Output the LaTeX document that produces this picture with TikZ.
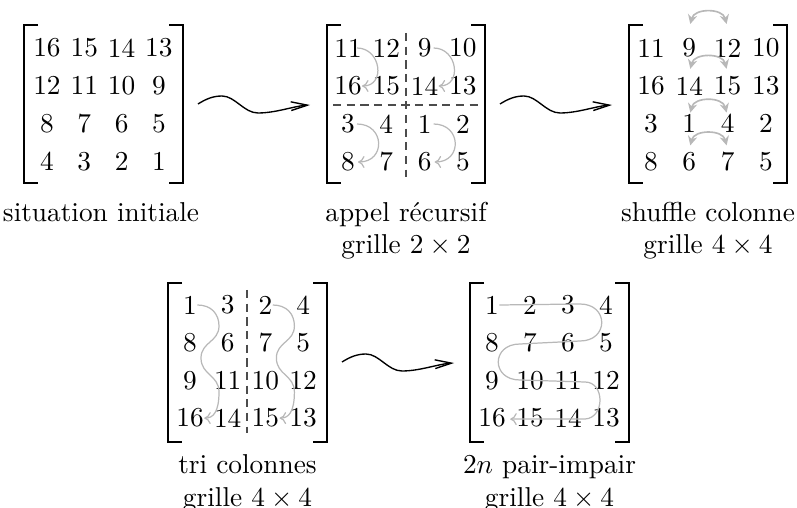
\documentclass[tikz,border=0pt]{standalone}
\usetikzlibrary{arrows.meta,calc}
\definecolor{trail}{gray}{0.72}
\definecolor{splitline}{gray}{0.3}
% square bracket pair: left x, right x, top y, bottom y
\newcommand\mbracket[4]{%
  \draw[bracketline] (#1+14,#3) -- (#1,#3) -- (#1,#4) -- (#1+14,#4);
  \draw[bracketline] (#2-14,#3) -- (#2,#3) -- (#2,#4) -- (#2-14,#4);}
% grid of entries: prefix, x0, dx, y0, dy, rows
\newcommand\fillgrid[6]{%
  \foreach \rowvals [count=\i] in {#6} {%
    \foreach \v [count=\j] in \rowvals {%
      \node[entry] (#1-\i-\j) at ({#2+(\j-1)*#3},{#4+(\i-1)*#5}) {\v};}}}
\begin{document}
\begin{tikzpicture}[x=0.366pt,y=-0.366pt,
  entry/.style={inner sep=0pt},
  caption/.style={anchor=base,inner sep=0pt},
  bracketline/.style={line width=0.55pt},
  split/.style={splitline,line width=0.5pt,dash pattern=on 3pt off 2pt},
  squig/.style={line width=0.5pt,-{Straight Barb[length=6pt,width=3.2pt]}},
  trailarrow/.style={trail,line width=0.45pt,-{To[length=2.4pt,width=4.4pt]}},
  swaparrow/.style={trail,line width=0.6pt,{Stealth[length=3.4pt,width=3.4pt]}-{Stealth[length=3.4pt,width=3.4pt]}},
]
\useasboundingbox (0,0) rectangle (797,508);

% ---- initial situation
\mbracket{24}{183}{25}{183}
\fillgrid{A}{47}{37.3}{48}{37.8}{{16,15,14,13},{12,11,10,9},{8,7,6,5},{4,3,2,1}}
\node[caption] (capA) at (101,221.5) {situation initiale};

% ---- recursive call on 2x2 blocks
\mbracket{327}{485}{25}{183}
\fillgrid{B}{348}{38.3}{48}{38}{{11,12,9,10},{16,15,14,13},{3,4,1,2},{8,7,6,5}}
\draw[split] (406,33) -- (406,177);
\draw[split] (333,105) -- (478,105);
\foreach \r/\s/\c/\e/\k in {1/2/1/14/24,1/2/3/14/24,3/4/1/10/28,3/4/3/10/28}
  \draw[trailarrow] ($(B-\r-\c)+(9,0)$) .. controls +(\k,0) and +(\k,0) .. ($(B-\s-\c)+(\e,0)$);
\node[caption] (capB1) at (406,221.5) {appel récursif};
\node[caption] (capB2) at (406,254) {grille $2\times 2$};

% ---- column shuffle
\mbracket{629}{787}{25}{183}
\fillgrid{C}{651}{38.3}{48}{37.8}{{11,9,12,10},{16,14,15,13},{3,1,4,2},{8,6,7,5}}
\foreach \r/\off in {1/-24,2/-17,3/-11,4/-16}
  \draw[swaparrow] ($(C-\r-2)+(1,\off)$) .. controls +(4,-16) and +(-4,-16) .. ($(C-\r-3)+(-1,\off)$);
\node[caption] (capC1) at (708,221.5) {shuffle colonne};
\node[caption] (capC2) at (708,254) {grille $4\times 4$};

% ---- column sort
\mbracket{168}{327}{283}{442}
\fillgrid{D}{190}{37.7}{305}{37.7}{{1,3,2,4},{8,6,7,5},{9,11,10,12},{16,14,15,13}}
\draw[split] (247,290) -- (247,433);
\foreach \c in {1,3} {
  \coordinate (p1) at ($(D-1-\c)+(29,21)$);
  \coordinate (p2) at ($(D-1-\c)+(11,53)$);
  \coordinate (p3) at ($(D-1-\c)+(29,87)$);
  \draw[trailarrow] (D-1-\c.east) .. controls +(14,0) and +(0,-12) .. (p1)
    .. controls +(0,16) and +(0,-16) .. (p2)
    .. controls +(0,17) and +(0,-17) .. (p3)
    .. controls +(0,20) and +(9,0) .. (D-4-\c.east);
}
\node[caption] (capD1) at (247.5,473) {tri colonnes};
\node[caption] (capD2) at (247.5,506) {grille $4\times 4$};

% ---- odd-even merge
\mbracket{470}{629}{283}{442}
\fillgrid{E}{492}{38}{305}{37.7}{{1,2,3,4},{8,7,6,5},{9,10,11,12},{16,15,14,13}}
\draw[trailarrow] (E-1-1.east) -- (580,304)
  .. controls (609,304) and (609,341) .. (580,341) -- (520,344)
  .. controls (491,344) and (491,380) .. (520,380) -- (585,382)
  .. controls (605,382) and (605,418) .. (585,419) -- ($(E-4-1.east)+(4,1)$);
\node[caption] (capE1) at (549.5,473) {$2n$ pair-impair};
\node[caption] (capE2) at (549.5,506) {grille $4\times 4$};

% ---- transition arrows
\coordinate (w1s) at (198,104); \coordinate (w1e) at (310,105);
\coordinate (w2s) at (500,104); \coordinate (w2e) at (612,105);
\coordinate (w3s) at (342,362); \coordinate (w3e) at (454,363);
\foreach \w in {1,2,3}
  \draw[squig] (w\w s) .. controls +(8,-5) and +(-9,0) .. ++(24,-8)
    .. controls +(13,0) and +(-14,0) .. ++(36,17)
    .. controls +(18,0) and +(-16,1) .. (w\w e);
\end{tikzpicture}
\end{document}
